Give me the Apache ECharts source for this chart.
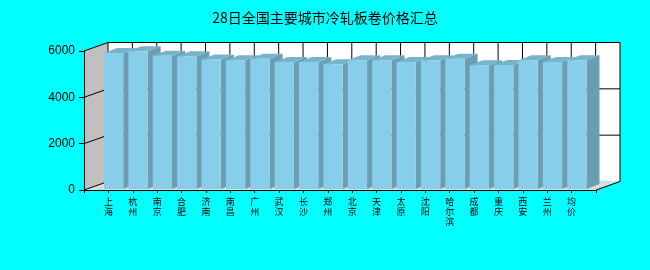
<!DOCTYPE html>
<html lang="zh">
<head>
    <meta charset="UTF-8">
    <title>28日全国主要城市冷轧板卷价格汇总</title>
    <script src="https://cdn.jsdelivr.net/npm/echarts@6/dist/echarts.min.js"></script>
    <style>
        * { margin: 0; padding: 0; }
        body { background: #00ffff; }
        #chart { width: 650px; height: 270px; }
    </style>
</head>
<body>
    <div id="chart"></div>
    <script>
        const cities = ['上海', '杭州', '南京', '合肥', '济南', '南昌', '广州', '武汉', '长沙', '郑州',
                        '北京', '天津', '太原', '沈阳', '哈尔滨', '成都', '重庆', '西安', '兰州', '均价'];
        const prices = [5910, 5990, 5790, 5770, 5630, 5600, 5670, 5530, 5530, 5430,
                        5600, 5600, 5530, 5600, 5670, 5380, 5400, 5600, 5530, 5600];
        const yTicks = [0, 2000, 4000, 6000];

        const yMax = yTicks[yTicks.length - 1];
        const xMax = cities.length + 1;
        // wall depth and bar depth (3D offsets in px)
        const DX = 24, DY = 8.5;
        const BDX = 13, BDY = 5;

        function back(p) { return [p[0] + DX, p[1] - DY]; }

        function renderWalls(params, api) {
            const p00 = api.coord([0, 0]), p0t = api.coord([0, yMax]);
            const p10 = api.coord([xMax, 0]), p1t = api.coord([xMax, yMax]);
            const kids = [];
            kids.push({ type: 'polygon', shape: { points: [p00, p0t, back(p0t), back(p00)] },
                        style: { fill: '#c0c0c0' } });
            kids.push({ type: 'polygon', shape: { points: [back(p0t), back(p1t), back(p10), back(p00)] },
                        style: { fill: '#ffffff' } });
            kids.push({ type: 'polygon', shape: { points: [p00, back(p00), back(p10), p10] },
                        style: { fill: '#dcdcdc' } });
            // grid lines on left and back walls
            yTicks.slice(1, -1).forEach(v => {
                const a = api.coord([0, v]), b = api.coord([xMax, v]);
                kids.push({ type: 'polyline', shape: { points: [a, back(a), back(b)] },
                            style: { stroke: '#000', lineWidth: 1, fill: null } });
            });
            for (let i = 0; i < xMax; i++) {
                const a = api.coord([i, 0]), b = api.coord([i, yMax]);
                kids.push({ type: 'line', shape: { x1: back(a)[0], y1: back(a)[1], x2: back(b)[0], y2: back(b)[1] },
                            style: { stroke: '#000', lineWidth: 1 } });
            }
            // outlines
            kids.push({ type: 'polyline', shape: { points: [p0t, back(p0t), back(p1t), back(p10), p10] },
                        style: { stroke: '#000', lineWidth: 1, fill: null } });
            kids.push({ type: 'line', shape: { x1: p00[0], y1: p00[1], x2: back(p00)[0], y2: back(p00)[1] },
                        style: { stroke: '#000', lineWidth: 1 } });
            return { type: 'group', children: kids };
        }

        function renderBar(params, api) {
            const x = api.value(0), v = api.value(1);
            const top = api.coord([x, v]);
            const base = api.coord([x, 0]);
            const slot = api.size([1, 0])[0];
            const L = top[0] - 0.18 * slot, R = L + 0.79 * slot;
            const T = top[1], B = base[1] - 1;
            return {
                type: 'group',
                children: [
                    { type: 'polygon', shape: { points: [[R, T], [R + BDX, T - BDY], [R + BDX, B - BDY], [R, B]] },
                      style: { fill: '#6b9db3' } },
                    { type: 'polygon', shape: { points: [[L, T], [R, T], [R + BDX, T - BDY], [L + BDX, T - BDY]] },
                      style: { fill: '#78b3cc' } },
                    { type: 'rect', shape: { x: L, y: T, width: R - L, height: B - T },
                      style: { fill: '#87ceeb' } }
                ]
            };
        }

        const chart = echarts.init(document.getElementById('chart'));
        chart.setOption({
            backgroundColor: '#00ffff',
            animation: false,
            title: {
                text: '28日全国主要城市冷轧板卷价格汇总',
                left: 'center', top: 6,
                textStyle: { fontSize: 14, fontWeight: 'normal', color: '#000', fontFamily: 'Noto Sans CJK SC' }
            },
            grid: { left: 84, right: 54, top: 51, bottom: 80 },
            xAxis: {
                type: 'value', min: 0, max: xMax, interval: 1, z: 5,
                axisLine: { lineStyle: { color: '#000', width: 1 } },
                axisTick: { length: 3, lineStyle: { color: '#000' } },
                splitLine: { show: false },
                axisLabel: {
                    margin: 7, color: '#000', fontSize: 9, lineHeight: 10,
                    fontFamily: 'Noto Sans CJK SC',
                    formatter: v => cities[v - 1] ? cities[v - 1].split('').join('\n') : ''
                }
            },
            yAxis: {
                type: 'value', min: 0, max: yMax, interval: 2000, z: 5,
                axisLine: { show: true, lineStyle: { color: '#000', width: 1 } },
                axisTick: { show: true, length: 5, lineStyle: { color: '#000' } },
                splitLine: { show: false },
                axisLabel: { margin: 9, color: '#000', fontSize: 12, fontFamily: 'Liberation Sans',
                             formatter: v => String(v) }
            },
            series: [
                { type: 'custom', z: 0, clip: false, renderItem: renderWalls, data: [[0, 0]], silent: true },
                { type: 'custom', z: 2, clip: false, renderItem: renderBar,
                  data: cities.map((c, i) => [i + 1, prices[i]]) }
            ]
        });
    </script>
</body>
</html>
